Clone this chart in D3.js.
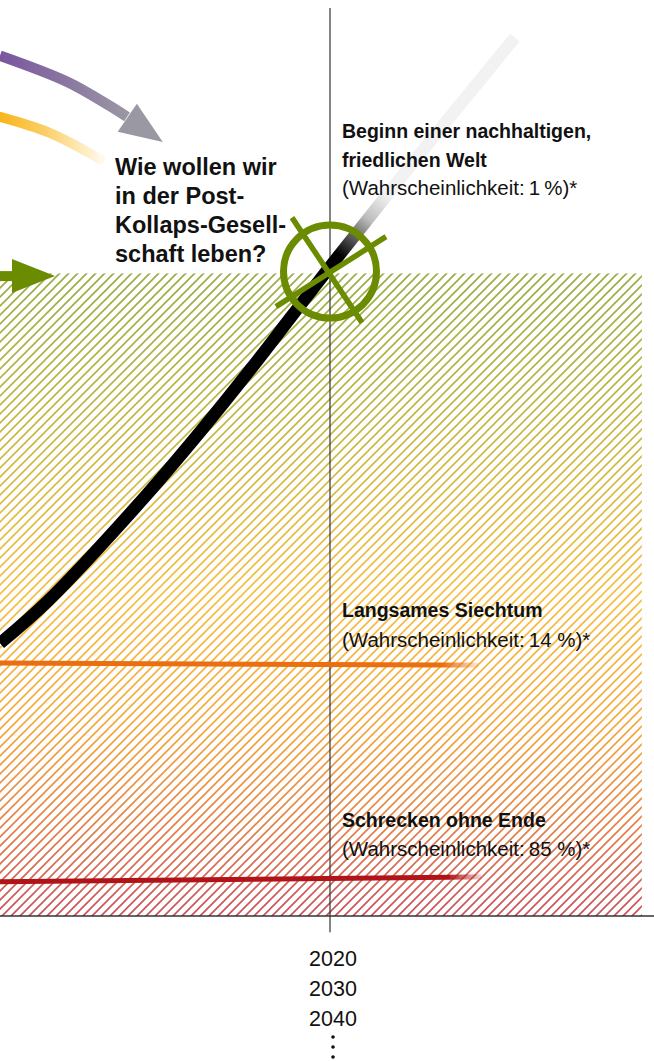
<!DOCTYPE html>
<html>
<head>
<meta charset="utf-8">
<script src="https://cdn.jsdelivr.net/npm/d3@7/dist/d3.min.js"></script>
<style>
  html, body { margin: 0; padding: 0; background: #fff; }
  svg { display: block; }
</style>
</head>
<body>
<svg id="chart" width="654" height="1061"></svg>
<script>
// ---------- DATA ----------
// time axis (years) and an abstract "development level" (0..100)
const growthYears   = [1960, 1968.7, 1985.8, 1996.4, 2005.5, 2013.1, 2020.2, 2036.4, 2053.6];
const growthValues  = [30.3, 35.0, 46.2, 53.8, 60.7, 66.7, 72.3, 84.7, 97.6];

const siechtumYears  = [1960, 2040.5, 2047];
const siechtumValues = [28.1, 27.9, 27.9];

const schreckenYears  = [1960, 2041.5, 2047.5];
const schreckenValues = [3.8, 4.3, 4.35];

const purpleArrowYears  = [1960, 1972.2, 1980, 1983.1];
const purpleArrowValues = [95.6, 92.7, 90.0, 88.8];
const purpleArrowTip    = [1989.6, 86.0];

const yellowArrowYears  = [1960, 1969.1, 1978.2];
const yellowArrowValues = [88.8, 87.0, 84.1];

const greenArrowYears  = [1960, 1962.6];
const greenArrowValues = [71.1, 71.1];
const greenArrowTip    = [1970, 71.1];

const nowYear = 2020;
const markerValue = 71.6;
const hatchTopValue = 71.4;
const hatchEndYear = 2076.7;
const axisTopValue = 100.9;
const axisBottomValue = -1.8;

const questionLines = ["Wie wollen wir", "in der Post-", "Kollaps-Gesell-", "schaft leben?"];

const scenarioTitles = ["Beginn einer nachhaltigen,", "Langsames Siechtum", "Schrecken ohne Ende"];
const scenarioTitleExtra = ["friedlichen Welt", null, null];
const scenarioProbs = ["(Wahrscheinlichkeit:\u20091\u2009%)*", "(Wahrscheinlichkeit:\u200914 %)*", "(Wahrscheinlichkeit:\u200985 %)*"];
const scenarioLabelValues = [86.5, 33.2, 9.9];

const yearLabels = ["2020", "2030", "2040"];

// ---------- SETUP ----------
const W = 654, H = 1061;
const svg = d3.select("#chart");
const x = d3.scaleLinear().domain([1960, 2080]).range([0, 660]);
const y = d3.scaleLinear().domain([0, 100]).range([916, 16]);

const bold = "'Liberation Sans', Arial, sans-serif";
const defs = svg.append("defs");

// hatch gradient + mask
const hg = defs.append("linearGradient").attr("id", "hatchGrad")
  .attr("gradientUnits", "userSpaceOnUse")
  .attr("x1", 0).attr("x2", 0).attr("y1", y(hatchTopValue)).attr("y2", y(0));
[[0, "#96ac40"], [0.28, "#ccb843"], [0.5, "#f7bd40"], [0.7, "#f4a83b"], [0.86, "#e57f45"], [1, "#c84d5c"]]
  .forEach(([o, c]) => hg.append("stop").attr("offset", o).attr("stop-color", c));

const P = 9;
const pat = defs.append("pattern").attr("id", "hatchPat")
  .attr("patternUnits", "userSpaceOnUse").attr("width", P).attr("height", P);
pat.append("path")
  .attr("d", `M0,${P} L${P},0 M${-P/2},${P/2} L${P/2},${-P/2} M${P/2},${P*1.5} L${P*1.5},${P/2}`)
  .attr("stroke", "#fff").attr("stroke-width", 1.6);
const mask = defs.append("mask").attr("id", "hatchMask").attr("maskUnits", "userSpaceOnUse")
  .attr("x", 0).attr("y", 0).attr("width", W).attr("height", H);
mask.append("rect").attr("x", 0).attr("y", 0).attr("width", W).attr("height", H).attr("fill", "url(#hatchPat)");

svg.append("rect")
  .attr("x", x(1960)).attr("y", y(hatchTopValue))
  .attr("width", x(hatchEndYear) - x(1960)).attr("height", y(0) - y(hatchTopValue))
  .attr("fill", "url(#hatchGrad)").attr("mask", "url(#hatchMask)");

// axes
svg.append("line")
  .attr("x1", x(1960)).attr("x2", W).attr("y1", y(0)).attr("y2", y(0))
  .attr("stroke", "#333").attr("stroke-width", 1.3);
svg.append("line")
  .attr("x1", x(nowYear)).attr("x2", x(nowYear)).attr("y1", y(axisTopValue)).attr("y2", y(axisBottomValue))
  .attr("stroke", "#333").attr("stroke-width", 1.2);

// gradients for scenario lines
function fadeGrad(id, color, x1, x2) {
  const g = defs.append("linearGradient").attr("id", id).attr("gradientUnits", "userSpaceOnUse")
    .attr("x1", x1).attr("x2", x2).attr("y1", 0).attr("y2", 0);
  g.append("stop").attr("offset", 0).attr("stop-color", color).attr("stop-opacity", 1);
  g.append("stop").attr("offset", 1).attr("stop-color", color).attr("stop-opacity", 0.15);
}
fadeGrad("orangeFade", "#ea6f10", x(2040.5), x(siechtumYears[2]));
fadeGrad("redFade", "#b01419", x(2041.5), x(schreckenYears[2]));

const line = d3.line().x(d => x(d[0])).y(d => y(d[1]));
const zip = (a, b) => a.map((v, i) => [v, b[i]]);

svg.append("path").datum(zip(siechtumYears, siechtumValues))
  .attr("d", line).attr("fill", "none").attr("stroke", "url(#orangeFade)").attr("stroke-width", 5);
svg.append("path").datum(zip(schreckenYears, schreckenValues))
  .attr("d", line).attr("fill", "none").attr("stroke", "url(#redFade)").attr("stroke-width", 5);

// growth curve
const gg = defs.append("linearGradient").attr("id", "growthGrad").attr("gradientUnits", "userSpaceOnUse")
  .attr("x1", x(2021.5)).attr("y1", y(73.5)).attr("x2", x(2030)).attr("y2", y(80.3));
gg.append("stop").attr("offset", 0).attr("stop-color", "#000");
gg.append("stop").attr("offset", 0.6).attr("stop-color", "#bdbdbd");
gg.append("stop").attr("offset", 1).attr("stop-color", "#f2f2f2");
svg.append("path").datum(zip(growthYears, growthValues))
  .attr("d", d3.line().x(d => x(d[0])).y(d => y(d[1])).curve(d3.curveCatmullRom.alpha(0.5)))
  .attr("fill", "none").attr("stroke", "url(#growthGrad)").attr("stroke-width", 12.5);

// marker circle with cross
const mk = svg.append("g").attr("transform", `translate(${x(nowYear)},${y(markerValue)})`);
mk.append("circle").attr("r", 46.5).attr("fill", "none").attr("stroke", "#6b8c00").attr("stroke-width", 7);
mk.append("line").attr("x1", -38).attr("y1", -54).attr("x2", 32).attr("y2", 51)
  .attr("stroke", "#6b8c00").attr("stroke-width", 5.5);
mk.append("line").attr("x1", 56).attr("y1", -35).attr("x2", -54).attr("y2", 35)
  .attr("stroke", "#6b8c00").attr("stroke-width", 5.5);

// purple arrow
const pgr = defs.append("linearGradient").attr("id", "purpleGrad").attr("gradientUnits", "userSpaceOnUse")
  .attr("x1", x(1960)).attr("x2", x(1984)).attr("y1", 0).attr("y2", 0);
pgr.append("stop").attr("offset", 0).attr("stop-color", "#7a559f");
pgr.append("stop").attr("offset", 1).attr("stop-color", "#9b99a3");
const pPts = zip(purpleArrowYears, purpleArrowValues);
svg.append("path").datum(pPts)
  .attr("d", d3.line().x(d => x(d[0])).y(d => y(d[1])).curve(d3.curveCatmullRom))
  .attr("fill", "none").attr("stroke", "url(#purpleGrad)").attr("stroke-width", 10.5);
function arrowHead(base, tip, len, half, color) {
  const bx = x(base[0]), by = y(base[1]), tx = x(tip[0]), ty = y(tip[1]);
  const dx = tx - bx, dy = ty - by, L = Math.hypot(dx, dy);
  const ux = dx / L, uy = dy / L;
  const sx = tx - ux * len, sy = ty - uy * len;
  const px = -uy, py = ux;
  svg.append("path")
    .attr("d", `M${tx},${ty} L${sx + px * half},${sy + py * half} L${sx - px * half},${sy - py * half} Z`)
    .attr("fill", color);
}
arrowHead(pPts[pPts.length - 2], purpleArrowTip, 43, 17, "#9a99a3");

// yellow fading arrow
const ygr = defs.append("linearGradient").attr("id", "yellowGrad").attr("gradientUnits", "userSpaceOnUse")
  .attr("x1", x(1960)).attr("x2", x(1978.2)).attr("y1", 0).attr("y2", 0);
ygr.append("stop").attr("offset", 0).attr("stop-color", "#f8b51c");
ygr.append("stop").attr("offset", 0.45).attr("stop-color", "#fbcf66");
ygr.append("stop").attr("offset", 1).attr("stop-color", "#fff8e6");
svg.append("path").datum(zip(yellowArrowYears, yellowArrowValues))
  .attr("d", d3.line().x(d => x(d[0])).y(d => y(d[1])).curve(d3.curveCatmullRom))
  .attr("fill", "none").attr("stroke", "url(#yellowGrad)").attr("stroke-width", 10).attr("stroke-linecap", "round");

// green arrow
svg.append("path").datum(zip(greenArrowYears, greenArrowValues))
  .attr("d", line).attr("fill", "none").attr("stroke", "#6b8c00").attr("stroke-width", 10);
arrowHead([1962, greenArrowValues[0]], greenArrowTip, 43, 17, "#6b8c00");

// question text
const q = svg.append("text").attr("x", 115).attr("y", 175)
  .attr("font-family", bold).attr("font-weight", "bold").attr("font-size", 23.5).attr("fill", "#111");
questionLines.forEach((t, i) => q.append("tspan").attr("x", 115).attr("dy", i === 0 ? 0 : 29).text(t));

// scenario labels
scenarioTitles.forEach((t, i) => {
  const ty = y(scenarioLabelValues[i]);
  const g = svg.append("text").attr("x", 342).attr("y", ty).attr("fill", "#111");
  g.append("tspan").attr("x", 342).attr("font-family", bold).attr("font-weight", "bold").attr("font-size", 19.5).text(t);
  if (scenarioTitleExtra[i]) {
    g.append("tspan").attr("x", 342).attr("dy", 29).attr("font-family", bold).attr("font-weight", "bold").attr("font-size", 19.5).text(scenarioTitleExtra[i]);
  }
  g.append("tspan").attr("x", 342).attr("dy", i === 0 ? 28 : 29.5).attr("font-family", bold).attr("font-size", 20.5).text(scenarioProbs[i]);
});

// year labels below axis
yearLabels.forEach((t, i) => {
  svg.append("text").attr("x", x(nowYear) + 3).attr("y", 966 + i * 30)
    .attr("text-anchor", "middle").attr("font-family", bold).attr("font-size", 21.5).attr("fill", "#111").text(t);
});
[1037, 1047, 1057].forEach(cy => {
  svg.append("circle").attr("cx", x(nowYear) + 3).attr("cy", cy).attr("r", 1.8).attr("fill", "#111");
});
</script>
</body>
</html>
